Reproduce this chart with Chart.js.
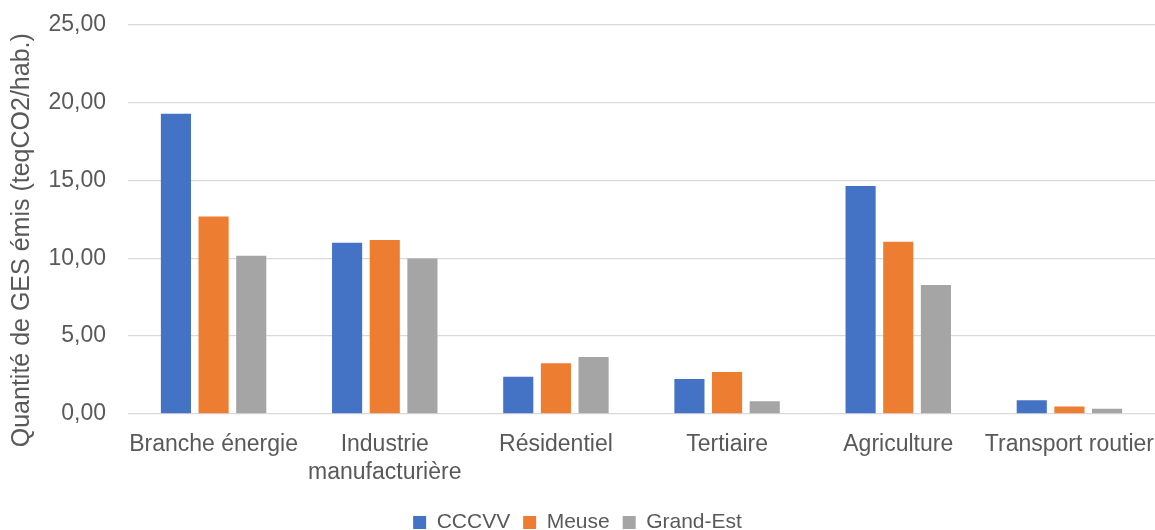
<!DOCTYPE html>
<html>
<head>
<meta charset="utf-8">
<script src="https://cdn.jsdelivr.net/npm/chart.js@4"></script>
<style>
  html, body { margin: 0; padding: 0; background: #ffffff; }
  #wrap { width: 1155px; height: 530px; position: relative; }
</style>
</head>
<body>
<div id="wrap"><canvas id="c" width="1155" height="530"></canvas></div>
<script>
const categories = ['Branche énergie', ['Industrie', 'manufacturière'], 'Résidentiel', 'Tertiaire', 'Agriculture', 'Transport routier'];
const seriesNames = ['CCCVV', 'Meuse', 'Grand-Est'];
const cccvv = [19.29, 11.0, 2.39, 2.24, 14.65, 0.87];
const meuse = [12.68, 11.17, 3.25, 2.69, 11.06, 0.47];
const grandEst = [10.16, 9.99, 3.66, 0.81, 8.28, 0.32];
const yTicks = [0, 5, 10, 15, 20, 25];
const yTitle = 'Quantité de GES émis (teqCO2/hab.)';

const colors = ['#4472C4', '#ED7D31', '#A5A5A5'];
const textColor = '#595959';
const fontFamily = "'Liberation Sans', Arial, sans-serif";

Chart.defaults.font.family = fontFamily;
Chart.defaults.color = textColor;

new Chart(document.getElementById('c'), {
  type: 'bar',
  data: {
    labels: categories,
    datasets: [cccvv, meuse, grandEst].map((d, i) => ({
      label: seriesNames[i],
      data: d,
      backgroundColor: colors[i],
      borderWidth: 0,
      categoryPercentage: 0.66,
      barPercentage: 0.8
    }))
  },
  options: {
    responsive: false,
    animation: false,
    maintainAspectRatio: false,
    layout: { padding: { top: 25, right: 0, bottom: -13, left: 0 } },
    plugins: {
      legend: {
        position: 'bottom',
        labels: {
          boxWidth: 13,
          boxHeight: 13,
          padding: 13,
          color: textColor,
          font: { size: 21 }
        }
      },
      tooltip: { enabled: false }
    },
    scales: {
      x: {
        grid: { display: false, drawTicks: false },
        border: { display: false },
        afterFit: (s) => { s.paddingLeft = 0; s.paddingRight = 0; s.height -= 4; },
        ticks: {
          color: textColor,
          font: { size: 23 },
          padding: 17,
          maxRotation: 0,
          autoSkip: false
        }
      },
      y: {
        min: 0,
        max: 25,
        afterBuildTicks: (axis) => { axis.ticks = yTicks.map(v => ({ value: v })); },
        afterFit: (axis) => { axis.width = 128; axis.paddingTop = 0; axis.paddingBottom = 0; },
        grid: { color: '#D9D9D9', lineWidth: 1.3, drawTicks: false },
        border: { display: false },
        ticks: {
          color: textColor,
          font: { size: 23 },
          padding: 22,
          callback: (v) => Number(v).toFixed(2).replace('.', ',')
        },
        title: {
          display: true,
          text: yTitle + '      ',
          color: textColor,
          font: { size: 25 },
          padding: { top: 7, bottom: 0 }
        }
      }
    }
  }
});
</script>
</body>
</html>
